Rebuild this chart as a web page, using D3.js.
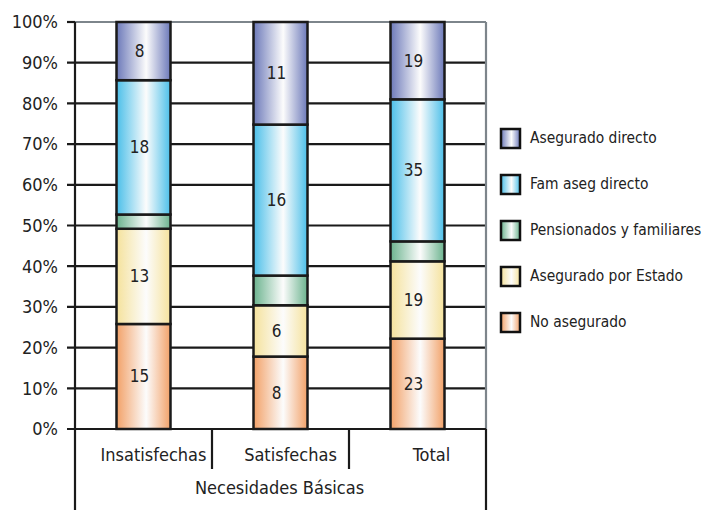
<!DOCTYPE html>
<html>
<head>
<meta charset="utf-8">
<script src="https://cdn.jsdelivr.net/npm/d3@7"></script>
<style>
  body { margin: 0; background: #fff; }
  text { font-family: "Liberation Sans Narrow", "DejaVu Sans Condensed", sans-serif; fill: #222; }
</style>
</head>
<body>
<div id="plot"></div>
<script>
const categories = ["Insatisfechas", "Satisfechas", "Total"];
const series = ["No asegurado", "Asegurado por Estado", "Pensionados y familiares", "Fam aseg directo", "Asegurado directo"];
// segment heights in percent
const noAsegurado = [25.8, 17.8, 22.2];
const aseguradoEstado = [23.4, 12.6, 19.0];
const pensionados = [3.5, 7.3, 4.9];
const famAsegDirecto = [33.0, 37.1, 34.9];
const aseguradoDirecto = [14.3, 25.2, 19.0];
// numbers printed inside the bars
const labelsNoAsegurado = ["15", "8", "23"];
const labelsEstado = ["13", "6", "19"];
const labelsPension = ["", "", ""];
const labelsFam = ["18", "16", "35"];
const labelsDirecto = ["8", "11", "19"];
const yTicks = [0, 10, 20, 30, 40, 50, 60, 70, 80, 90, 100];
const colors = ["#f2a168", "#f5e29c", "#6bb38e", "#4bbfe9", "#6c79b9"];

const values = [noAsegurado, aseguradoEstado, pensionados, famAsegDirecto, aseguradoDirecto];
const labels = [labelsNoAsegurado, labelsEstado, labelsPension, labelsFam, labelsDirecto];

const width = 706, height = 510;
const margin = { top: 22, left: 75, right: 220, bottom: 81 };
const plotW = width - margin.left - margin.right;
const plotH = height - margin.top - margin.bottom;

const rows = categories.map((c, i) => {
  const r = { cat: c };
  series.forEach((s, j) => r[s] = values[j][i]);
  return r;
});
const stacked = d3.stack().keys(series)(rows);

const x = d3.scaleBand().domain(categories).range([0, plotW]);
const barW = 54;
const y = d3.scaleLinear().domain([0, 100]).range([plotH, 0]);

const svg = d3.select("#plot").append("svg")
  .attr("width", width).attr("height", height);

const defs = svg.append("defs");
colors.forEach((c, i) => {
  const g = defs.append("linearGradient").attr("id", "grad" + i)
    .attr("x1", "0%").attr("x2", "100%").attr("y1", "0%").attr("y2", "0%");
  g.append("stop").attr("offset", "0%").attr("stop-color", c);
  g.append("stop").attr("offset", "55%").attr("stop-color", "#fcfcfc");
  g.append("stop").attr("offset", "100%").attr("stop-color", c);
});

const g = svg.append("g").attr("transform", `translate(${margin.left},${margin.top})`);

// gridlines and ticks
g.selectAll(".grid").data(yTicks.filter(t => t < 100)).join("line")
  .attr("x1", -8).attr("x2", plotW)
  .attr("y1", d => y(d)).attr("y2", d => y(d))
  .attr("stroke", "#1a1a1a").attr("stroke-width", 2.2);
g.append("line").attr("x1", -8).attr("x2", 0).attr("y1", y(100)).attr("y2", y(100))
  .attr("stroke", "#1a1a1a").attr("stroke-width", 2.2);
g.append("line").attr("x1", 0).attr("x2", plotW).attr("y1", y(100)).attr("y2", y(100))
  .attr("stroke", "#7d858b").attr("stroke-width", 2.2);
g.append("line").attr("x1", plotW).attr("x2", plotW).attr("y1", y(100)).attr("y2", plotH)
  .attr("stroke", "#7d858b").attr("stroke-width", 2.2);

g.selectAll(".ytick").data(yTicks).join("text")
  .attr("x", -17).attr("y", d => y(d)).attr("dy", "0.35em")
  .attr("text-anchor", "end").style("font-size", "18px")
  .text(d => d + "%");

// bars
const layer = g.selectAll(".layer").data(stacked).join("g")
  .attr("fill", (d, i) => `url(#grad${i})`);
layer.selectAll("rect").data(d => d).join("rect")
  .attr("x", d => x(d.data.cat) + x.bandwidth() / 2 - barW / 2)
  .attr("width", barW)
  .attr("y", d => y(d[1]))
  .attr("height", d => y(d[0]) - y(d[1]))
  .attr("stroke", "#1a1a1a").attr("stroke-width", 2.5);

stacked.forEach((s, i) => {
  g.selectAll(".lab" + i).data(s).join("text")
    .attr("x", d => x(d.data.cat) + x.bandwidth() / 2 - 4)
    .attr("y", d => y((d[0] + d[1]) / 2)).attr("dy", "0.35em")
    .attr("text-anchor", "middle").style("font-size", "17px")
    .text((d, k) => labels[i][k]);
});

// axes lines
g.append("line").attr("x1", 0).attr("x2", 0).attr("y1", y(100)).attr("y2", height - margin.top)
  .attr("stroke", "#1a1a1a").attr("stroke-width", 2.2);
g.append("line").attr("x1", plotW).attr("x2", plotW).attr("y1", plotH).attr("y2", height - margin.top)
  .attr("stroke", "#1a1a1a").attr("stroke-width", 2.2);
g.append("line").attr("x1", -8).attr("x2", plotW).attr("y1", plotH).attr("y2", plotH)
  .attr("stroke", "#1a1a1a").attr("stroke-width", 2.2);
categories.slice(1).forEach(c => {
  g.append("line").attr("x1", x(c)).attr("x2", x(c)).attr("y1", plotH).attr("y2", plotH + 40)
    .attr("stroke", "#1a1a1a").attr("stroke-width", 2.2);
});

g.selectAll(".xlab").data(categories).join("text")
  .attr("x", d => x(d) + x.bandwidth() / 2 + (d === "Total" ? 14 : 10))
  .attr("y", plotH + 32)
  .attr("text-anchor", "middle").style("font-size", "18px")
  .text(d => d);
g.append("text").attr("x", plotW / 2 - 1).attr("y", plotH + 65)
  .attr("text-anchor", "middle").style("font-size", "18px")
  .text("Necesidades Básicas");

// legend
const legend = svg.append("g").attr("transform", "translate(501,0)");
const legendOrder = series.slice().reverse();
const legY = d3.scalePoint().domain(legendOrder).range([138, 322]);
legendOrder.forEach(s => {
  const i = series.indexOf(s);
  legend.append("rect").attr("x", 0).attr("y", legY(s) - 9).attr("width", 19).attr("height", 19)
    .attr("fill", `url(#grad${i})`).attr("stroke", "#111").attr("stroke-width", 2.5);
  legend.append("text").attr("x", 29).attr("y", legY(s)).attr("dy", "0.35em")
    .style("font-size", "15.4px").text(s);
});
</script>
</body>
</html>
